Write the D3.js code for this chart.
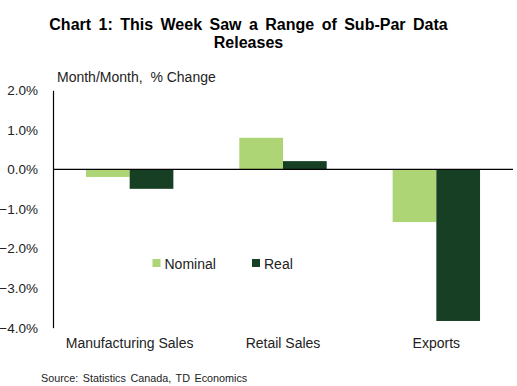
<!DOCTYPE html>
<html><head><meta charset="utf-8">
<script src="https://cdn.jsdelivr.net/npm/d3@7"></script>
<style>body{margin:0;background:#fff}svg{display:block;font-family:"Liberation Sans",Arial,sans-serif}</style>
</head><body>
<svg id="c" width="517" height="386"></svg>
<script>
const categories = ["Manufacturing Sales", "Retail Sales", "Exports"];
const seriesNames = ["Nominal", "Real"];
const nominal = [-0.19, 0.8, -1.33];
const real = [-0.49, 0.21, -3.83];
const yTicks = [2, 1, 0, -1, -2, -3, -4];
const colors = ["#add575", "#173f24"];

const svg = d3.select("#c");
const pLeft = 53, pRight = 513, pTop = 90.3, pBottom = 327.7;
const y = d3.scaleLinear().domain([-4, 2]).range([pBottom, pTop]);
const x = d3.scaleBand().domain(categories).range([pLeft, pRight]).paddingInner(0.43).paddingOuter(0.215);
const xs = d3.scaleBand().domain(seriesNames).range([0, x.bandwidth()]);
const data = categories.map((c, i) => ({c, vals: [nominal[i], real[i]]}));

// Title
svg.append("text").attr("x", 248.5).attr("y", 30).attr("text-anchor", "middle")
  .attr("font-weight", "bold").attr("font-size", 16).attr("word-spacing", 3)
  .text("Chart 1: This Week Saw a Range of Sub-Par Data");
svg.append("text").attr("x", 248.5).attr("y", 48).attr("text-anchor", "middle")
  .attr("font-weight", "bold").attr("font-size", 16).text("Releases");
svg.append("text").attr("x", 57).attr("y", 82).attr("font-size", 14).attr("fill", "#222")
  .style("white-space", "pre").text("Month/Month,  % Change");

// bars
data.forEach(d => {
  d.vals.forEach((v, j) => {
    svg.append("rect")
      .attr("x", x(d.c) + xs(seriesNames[j]))
      .attr("width", xs.bandwidth())
      .attr("y", y(Math.max(0, v)))
      .attr("height", Math.abs(y(v) - y(0)))
      .attr("fill", colors[j]);
  });
});

// y axis
const yAxis = d3.axisLeft(y).tickValues(yTicks).tickSize(0).tickPadding(15)
  .tickFormat(d => d3.format(".1f")(d) + "%");
const gy = svg.append("g").attr("transform", `translate(${pLeft},0)`).call(yAxis);
gy.select(".domain").attr("stroke", "#000").attr("stroke-width", 1.2);
gy.selectAll("text").attr("font-size", 13.5).attr("fill", "#222")
  .attr("font-family", "Liberation Sans, Arial, sans-serif");

// zero line
svg.append("line").attr("x1", pLeft).attr("x2", pRight).attr("y1", y(0)).attr("y2", y(0))
  .attr("stroke", "#000").attr("stroke-width", 1.2);

// category labels
const xAxis = d3.axisBottom(x).tickSize(0).tickPadding(0);
const gx = svg.append("g").attr("transform", `translate(0,${pBottom})`).call(xAxis);
gx.select(".domain").remove();
gx.selectAll("text").attr("font-size", 14).attr("fill", "#222").attr("dy", null).attr("y", 20)
  .attr("font-family", "Liberation Sans, Arial, sans-serif");

// legend
const legX = [152.5, 252];
seriesNames.forEach((s, j) => {
  svg.append("rect").attr("x", legX[j]).attr("y", 259).attr("width", 8).attr("height", 8).attr("fill", colors[j]);
  svg.append("text").attr("x", legX[j] + 12).attr("y", 268.5).attr("font-size", 14).attr("fill", "#222").text(s);
});

// source
svg.append("text").attr("x", 41).attr("y", 382).attr("font-size", 10.8).attr("fill", "#222")
  .attr("word-spacing", 1.5).text("Source: Statistics Canada, TD Economics");
</script>
</body></html>
